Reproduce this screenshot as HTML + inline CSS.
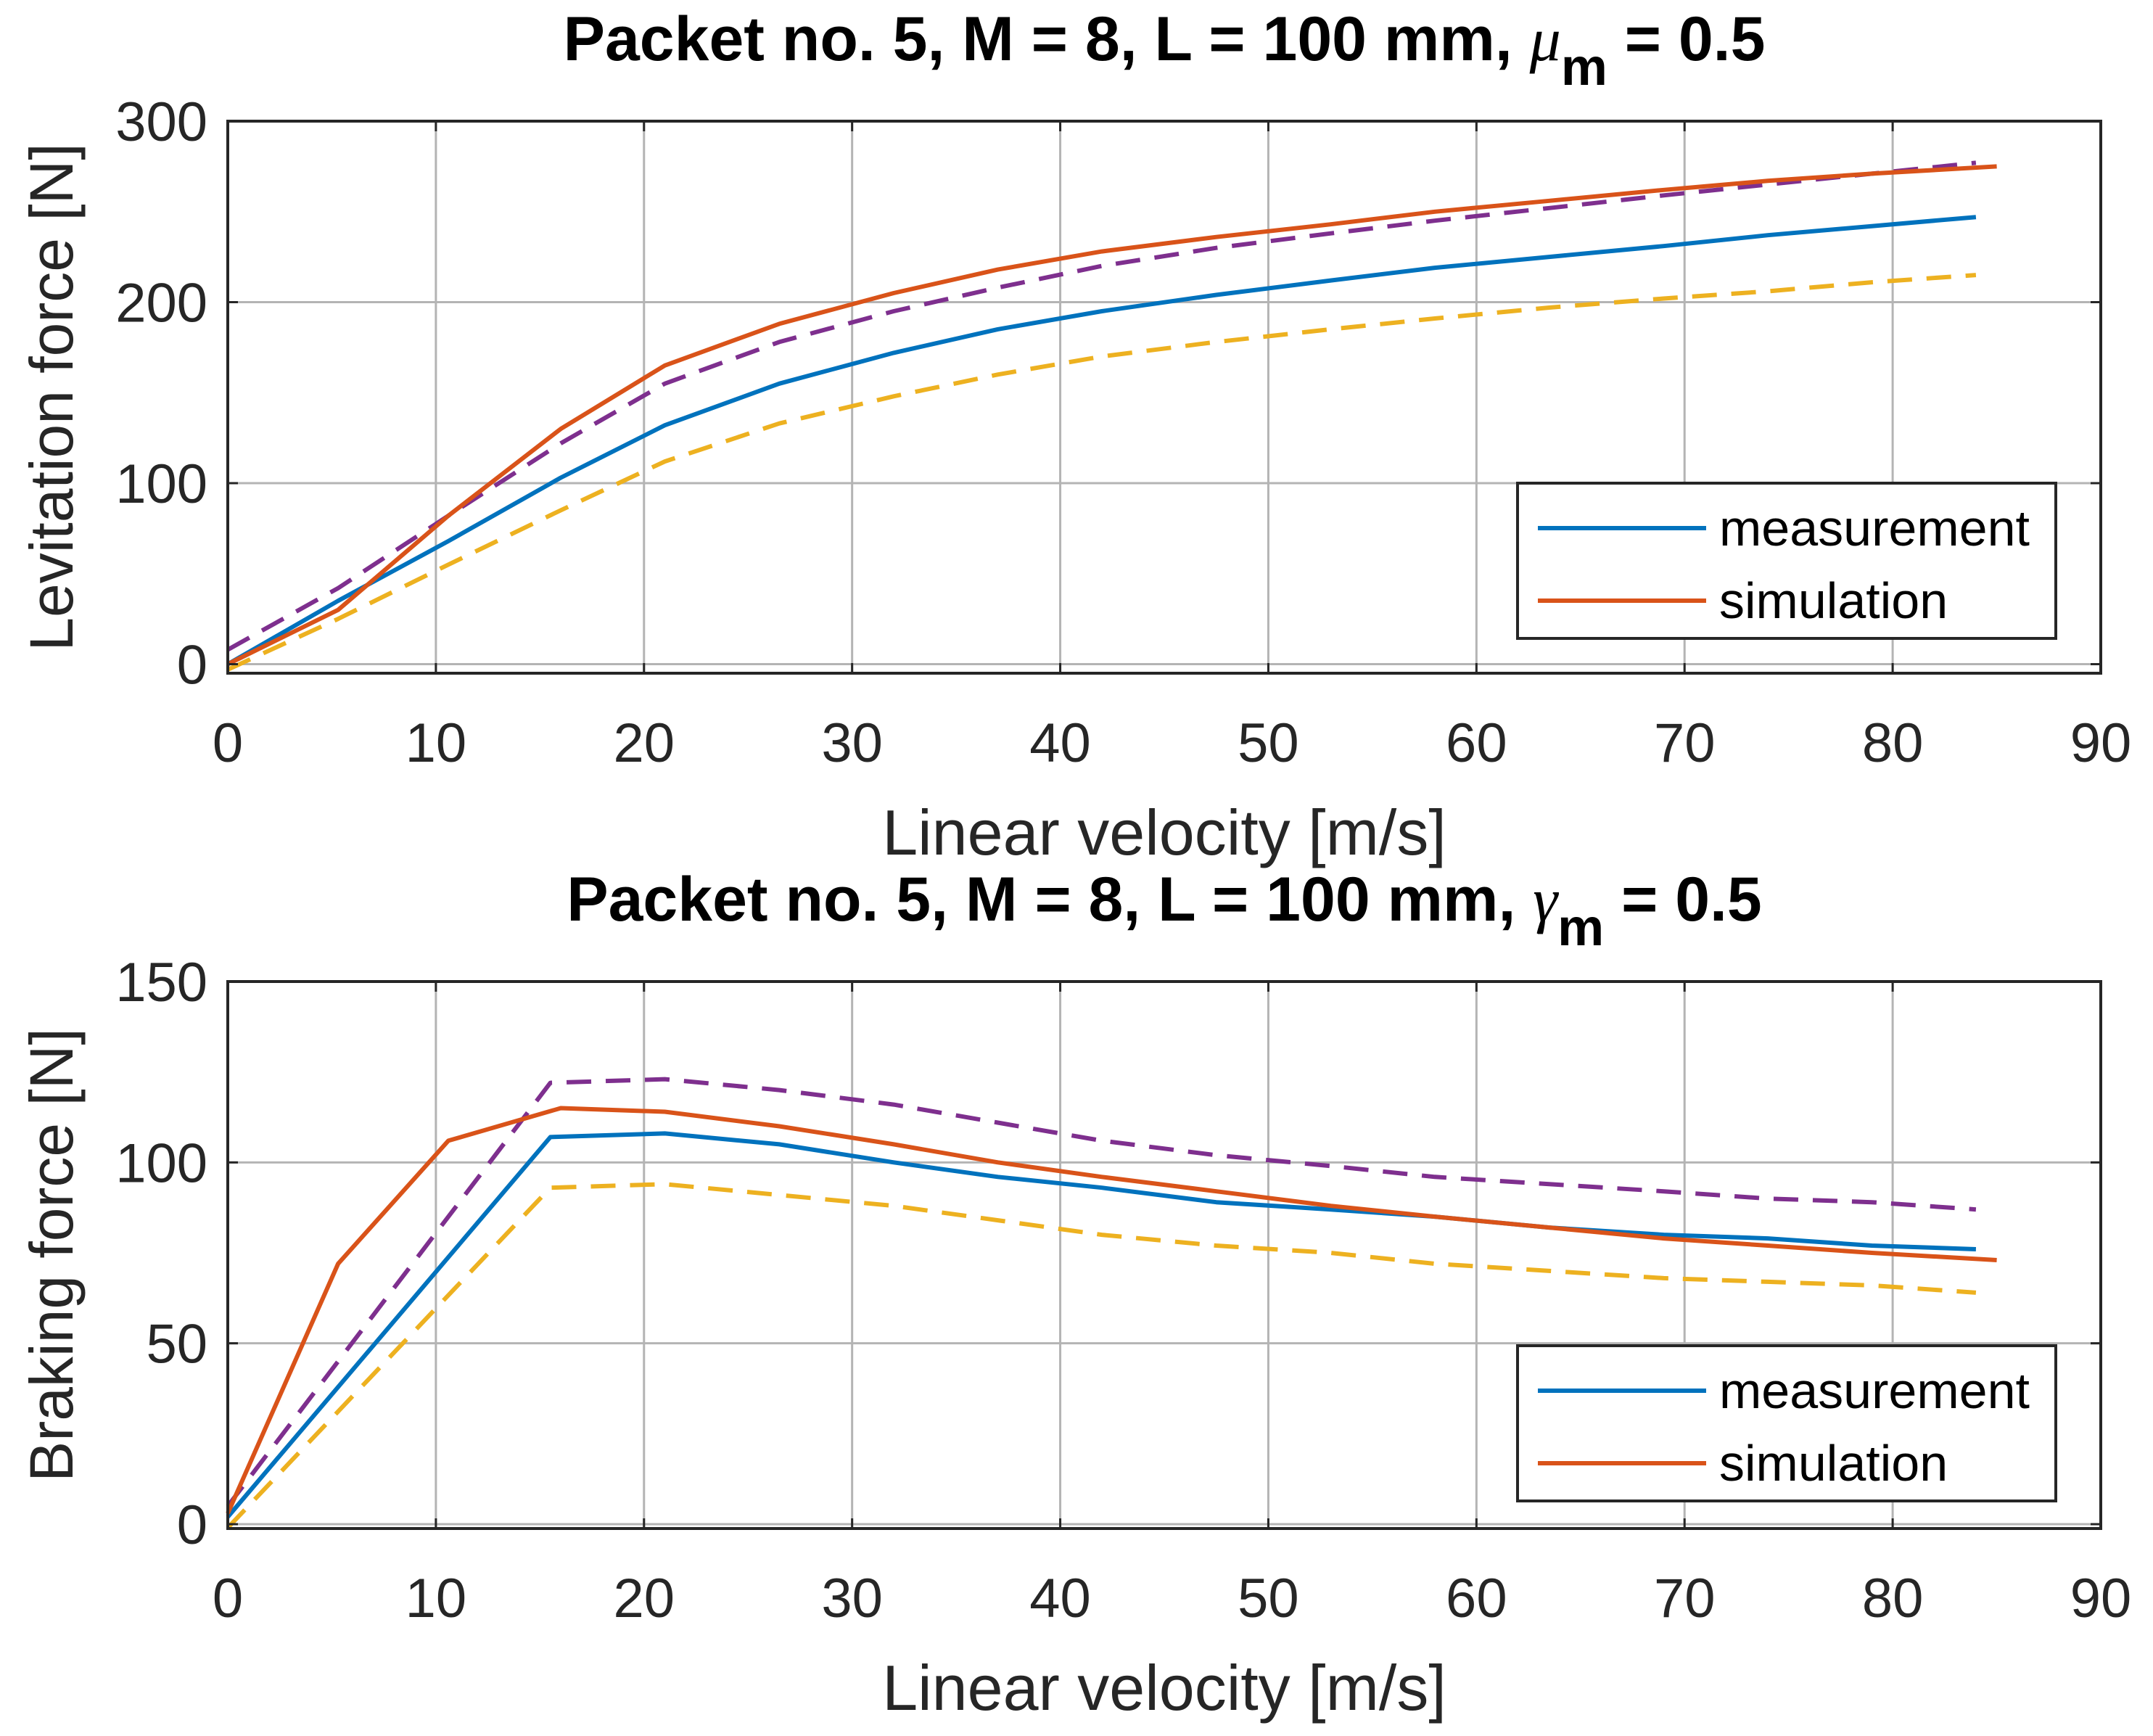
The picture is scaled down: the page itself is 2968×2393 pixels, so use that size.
<!DOCTYPE html>
<html><head><meta charset="utf-8"><style>
html,body{margin:0;padding:0;background:#fff}
svg{display:block;font-family:"Liberation Sans",sans-serif}
</style></head><body>
<svg id="fig" width="2968" height="2393" viewBox="0 0 2968 2393" xmlns="http://www.w3.org/2000/svg">
<rect width="2968" height="2393" fill="#fff"/>
</svg>
<script>
const xTicks=[0,10,20,30,40,50,60,70,80,90];
const topYTicks=[0,100,200,300];
const botYTicks=[0,50,100,150];
const topXMeas=[0,5.3,10.6,16,21,26.5,32,37,42,47.5,53,58,63.5,69,74,79,84];
const topMeas=[0,35,68,103,132,155,172,185,195,204,212,219,225,231,237,242,247];
const topXSim=[0,5.3,10.6,16,21,26.5,32,37,42,47.5,53,58,63.5,69,74,79,85];
const topSim=[0,30,82,130,165,188,205,218,228,236,243,250,256,262,267,271,275];
const topUpper=[8,42,82,122,155,178,195,208,220,230,238,245,252,259,265,271,277];
const topLower=[-3,25,55,85,112,133,148,160,170,178,185,191,197,202,206,211,215];
const botXMeas=[0,15.5,21,26.5,32,37,42,47.5,53,58,63.5,69,74,79,84];
const botMeas=[2,107,108,105,100,96,93,89,87,85,82,80,79,77,76];
const botXSim=[0,5.3,10.6,16,21,26.5,32,37,42,47.5,53,58,63.5,69,74,79,85];
const botSim=[3,72,106,115,114,110,105,100,96,92,88,85,82,79,77,75,73];
const botUpper=[5,122,123,120,116,111,106,102,99,96,94,92,90,89,87];
const botLower=[-1,93,94,91,88,84,80,77,75,72,70,68,67,66,64];

const NS="http://www.w3.org/2000/svg";
const svg=document.getElementById('fig');
function mk(tag,attrs,parent){const e=document.createElementNS(NS,tag);for(const k in attrs)e.setAttribute(k,attrs[k]);(parent||svg).appendChild(e);return e;}

function panel(cfg){
  const L=314,R=2896,T=cfg.top,B=cfg.bottom;
  const sx=v=>L+(v-0)/(90-0)*(R-L);
  const sy=v=>B-(v-cfg.ymin)/(cfg.ymax-cfg.ymin)*(B-T);
  const g=mk('g',{});
  
  
  xTicks.forEach(t=>{const l=mk('line',{x1:sx(t),x2:sx(t),y1:T,y2:B,stroke:'#b4b4b4','stroke-width':3},g);
    });
  cfg.yTicks.forEach(t=>{const l=mk('line',{x1:L,x2:R,y1:sy(t),y2:sy(t),stroke:'#b4b4b4','stroke-width':3},g);
    });
  function series(xs,ys,color,dash,name){
    const d=xs.map((x,i)=>(i?'L':'M')+sx(x).toFixed(1)+' '+sy(ys[i]).toFixed(1)).join(' ');
    const p=mk('path',{d:d,fill:'none',stroke:color,'stroke-width':6,'stroke-linejoin':'round'},g);
    if(dash)p.setAttribute('stroke-dasharray','34 20');
    
    
  }
  series(cfg.xm,cfg.upper,'#7E2F8E',true,'upper-bound-line');
  series(cfg.xm,cfg.lower,'#EDB120',true,'lower-bound-line');
  series(cfg.xm,cfg.meas,'#0072BD',false,'measurement-line');
  series(cfg.xs,cfg.sim,'#D95319',false,'simulation-line');
  const box=mk('rect',{x:L,y:T,width:R-L,height:B-T,fill:'none',stroke:'#262626','stroke-width':4},g);
  
  xTicks.forEach(t=>{
    mk('line',{x1:sx(t),x2:sx(t),y1:B,y2:B-14,stroke:'#262626','stroke-width':3},g);
    mk('line',{x1:sx(t),x2:sx(t),y1:T,y2:T+14,stroke:'#262626','stroke-width':3},g);
    const tx=mk('text',{x:sx(t),y:B+122,'text-anchor':'middle','font-size':76,fill:'#262626'},g);
    tx.textContent=t;
  });
  cfg.yTicks.forEach(t=>{
    mk('line',{x1:L,x2:L+14,y1:sy(t),y2:sy(t),stroke:'#262626','stroke-width':3},g);
    mk('line',{x1:R,x2:R-14,y1:sy(t),y2:sy(t),stroke:'#262626','stroke-width':3},g);
    const tx=mk('text',{x:286,y:sy(t)+27,'text-anchor':'end','font-size':76,fill:'#262626'},g);
    tx.textContent=t;
  });
  const xl=mk('text',{x:1605,y:B+250,'text-anchor':'middle','font-size':88,fill:'#262626'},g);
  xl.textContent='Linear velocity [m/s]';
  const yc=(T+B)/2;
  const yl=mk('text',{x:0,y:0,'text-anchor':'middle','font-size':84,fill:'#262626',transform:`translate(100,${yc}) rotate(-90)`},g);
  yl.textContent=cfg.ylabel;
  const ti=mk('text',{x:1605,y:T-84,'text-anchor':'middle','font-size':86,'font-weight':'bold',fill:'#000'},g);
  
  ti.innerHTML='Packet no. 5, M = 8, L = 100 mm, <tspan font-style="italic" font-family="Liberation Serif" font-weight="normal">'+cfg.sym+'</tspan><tspan dy="34" font-size="72">m</tspan><tspan dy="-34"> = 0.5</tspan>';
  const lg=mk('g',{},g);
  const lt=cfg.legTop;
  mk('rect',{x:2092,y:lt,width:742,height:214,fill:'#fff',stroke:'#262626','stroke-width':4},lg);
  [['measurement','#0072BD',lt+62],['simulation','#D95319',lt+162]].forEach(([t,c,y])=>{
    const ln=mk('line',{x1:2120,x2:2352,y1:y,y2:y,stroke:c,'stroke-width':6},lg);
    
    const tx=mk('text',{x:2370,y:y+24,'font-size':70,fill:'#000'},lg);
    tx.textContent=t;
  });
}
panel({name:'levitation-chart',top:167,bottom:928,ymin:-5,ymax:300,yTicks:topYTicks,xm:topXMeas,xs:topXSim,meas:topMeas,sim:topSim,upper:topUpper,lower:topLower,ylabel:'Levitation force [N]',sym:'μ',legTop:666});
panel({name:'braking-chart',top:1353,bottom:2107,ymin:-1.2,ymax:150,yTicks:botYTicks,xm:botXMeas,xs:botXSim,meas:botMeas,sim:botSim,upper:botUpper,lower:botLower,ylabel:'Braking force [N]',sym:'γ',legTop:1855});
</script>
</body></html>
